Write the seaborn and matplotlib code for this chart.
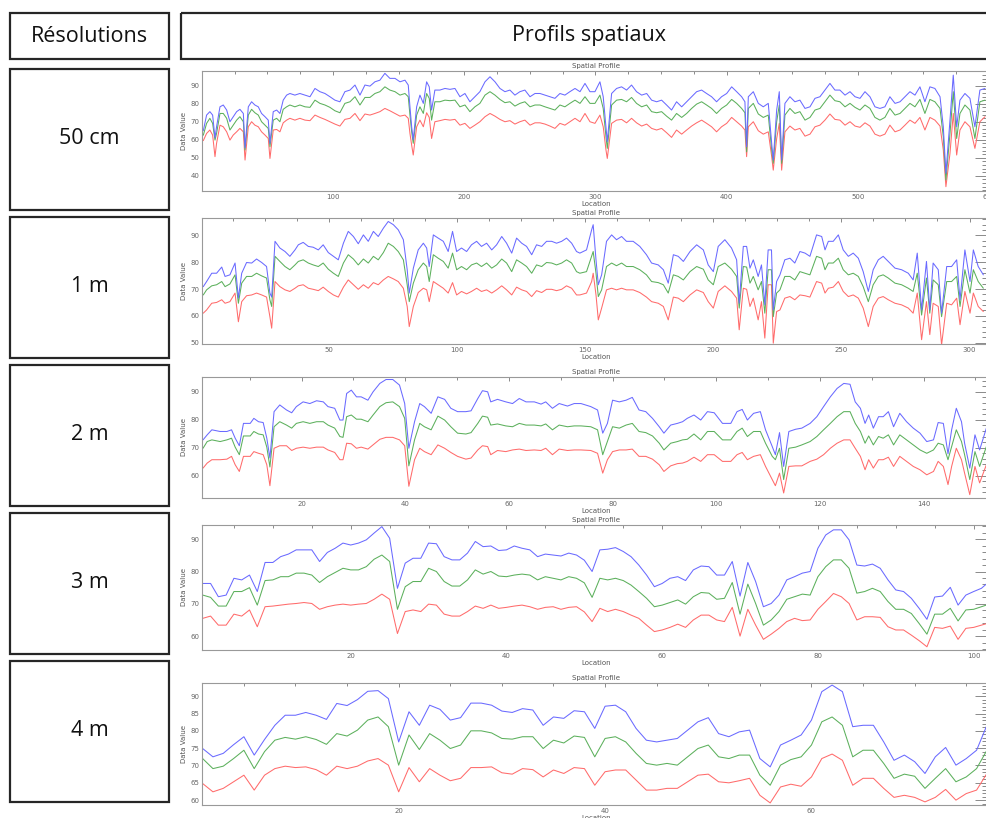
"""
Profils spatiaux (bandes R, V, B) pour différentes résolutions.
"""

import numpy as np
import pandas as pd
import matplotlib
matplotlib.use("Agg")
import matplotlib.pyplot as plt
import matplotlib.ticker as mticker
from matplotlib.patches import Rectangle
import seaborn as sns

sns.set_theme(style="white")
plt.rcParams["font.family"] = ["DejaVu Sans"]

# ---------------------------------------------------------------- données
resolutions = ["50 cm", "1 m", "2 m", "3 m", "4 m"]

# 50 cm
loc_50cm = [
    1.2, 3.7, 6.2, 8.3, 10.1, 11.3, 13.9, 16.4, 19.0, 21.5,
    24.0, 26.6, 29.1, 31.7, 33.0, 35.5, 38.0, 40.5, 43.1, 45.6,
    48.2, 50.7, 52.0, 54.5, 57.1, 59.6, 62.1, 64.7, 67.2, 71.0,
    74.8, 78.7, 82.5, 86.3, 90.1, 93.9, 97.7, 101.5, 105.3, 109.1,
    113.0, 116.8, 120.6, 124.4, 128.2, 132.0, 135.8, 139.6, 143.4, 147.3,
    151.1, 154.9, 157.4, 158.7, 160.0, 161.2, 163.8, 166.3, 168.9, 171.4,
    173.4, 175.2, 177.7, 181.5, 185.4, 189.2, 193.0, 196.8, 200.6, 204.4,
    208.2, 212.0, 215.9, 219.7, 223.5, 227.3, 231.1, 234.9, 238.7, 242.5,
    246.3, 250.2, 254.0, 257.8, 261.6, 265.4, 269.2, 273.0, 276.8, 280.6,
    284.5,
    288.3, 292.1, 295.9, 299.7, 303.5, 306.0, 308.1, 309.1, 312.4, 316.2,
    320.0, 323.8, 327.6, 331.4, 335.3, 339.1, 342.9, 346.7, 350.5, 354.3,
    358.1, 361.9, 365.8, 369.6, 373.4, 377.2, 381.0, 384.8, 388.6, 392.4,
    396.2, 400.1, 403.9, 407.7, 411.5, 414.0, 415.3, 416.6, 420.4, 424.2,
    428.0, 431.8, 434.4, 435.6, 438.2, 440.2, 442.0, 444.5, 448.3, 452.1,
    455.9, 459.8, 463.6, 467.4, 471.2, 475.0, 478.8, 482.6, 486.4, 490.3,
    494.1, 497.9, 501.7, 505.5, 509.3, 513.1, 516.9, 520.7, 524.5, 528.4,
    532.2, 536.0, 539.8, 543.6, 547.4, 551.2, 555.0, 558.8, 562.7, 565.2,
    567.2, 570.3, 572.8, 575.4, 577.9, 581.7, 585.5, 589.3, 593.1, 597.0,
]
blue_50cm = [
    65.0, 73.7, 75.6, 73.7, 61.0, 67.2, 78.3, 79.3, 76.5, 70.0,
    72.8, 75.6, 76.9, 74.6, 55.5, 78.3, 81.1, 79.3, 78.3, 74.6,
    72.8, 70.9, 58.0, 75.6, 76.5, 74.6, 82.0, 84.8, 85.7, 84.8,
    85.7, 84.8, 83.9, 88.5, 86.7, 85.7, 83.9, 82.0, 81.1, 86.7,
    87.6, 90.4, 84.8, 90.4, 89.8, 92.2, 93.1, 96.9, 94.1, 94.1,
    92.2, 93.1, 90.4, 78.3, 67.2, 60.0, 78.3, 84.8, 80.2, 92.2,
    89.4, 76.5, 87.6, 87.6, 88.5, 88.0, 88.5, 83.9, 85.7, 81.1,
    83.9, 86.7, 92.2, 95.0, 92.2, 88.5, 86.7, 87.6, 84.8, 86.7,
    87.6, 83.9, 85.7, 85.7, 84.8, 83.9, 83.0, 85.7, 84.8, 86.7,
    88.5,
    86.7, 91.3, 86.7, 86.7, 92.2, 83.9, 67.2, 58.9, 85.7, 88.5,
    89.4, 87.6, 90.4, 86.7, 84.8, 85.7, 82.0, 81.1, 82.0, 79.3,
    76.5, 81.1, 78.3, 81.1, 83.9, 86.7, 87.6, 85.7, 83.9, 81.1,
    83.9, 85.7, 89.4, 86.7, 83.9, 81.1, 56.1, 83.9, 86.7, 80.2,
    78.3, 80.2, 58.0, 48.7, 76.5, 86.7, 48.7, 80.2, 83.9, 81.1,
    82.0, 77.4, 78.3, 83.0, 83.9, 87.6, 91.3, 87.6, 87.6, 84.8,
    86.7, 83.9, 83.0, 86.7, 83.9, 78.3, 77.4, 78.3, 83.9, 80.2,
    81.1, 83.9, 86.7, 84.8, 89.4, 81.1, 89.4, 88.5, 83.9, 67.2,
    41.3, 70.9, 95.9, 67.2, 82.0, 85.7, 83.0, 67.2, 87.6, 88.5,
]
green_50cm = [
    62.5, 69.1, 71.9, 69.1, 59.8, 63.5, 74.6, 74.6, 71.9, 65.4,
    68.1, 70.9, 72.8, 70.0, 54.3, 73.7, 76.9, 75.0, 73.7, 70.0,
    68.1, 66.3, 56.1, 70.9, 71.9, 70.0, 76.9, 78.3, 79.3, 78.3,
    79.3, 78.3, 78.0, 82.0, 80.2, 79.3, 78.0, 76.1, 75.0, 80.2,
    81.1, 83.9, 79.3, 83.5, 83.5, 85.7, 86.7, 89.4, 87.6, 86.7,
    84.8, 85.7, 83.9, 73.7, 64.4, 58.0, 73.7, 78.3, 74.6, 85.7,
    83.0, 70.9, 81.1, 81.1, 82.0, 81.7, 82.0, 78.3, 79.3, 75.6,
    78.3, 80.2, 84.8, 86.7, 84.8, 82.4, 80.6, 81.1, 78.7, 80.2,
    81.1, 78.3, 79.3, 79.3, 78.3, 77.4, 76.5, 79.3, 78.3, 80.2,
    82.0,
    80.2, 83.9, 80.2, 80.2, 84.8, 77.4, 61.7, 55.2, 79.3, 82.0,
    82.4, 81.1, 83.5, 80.2, 78.3, 79.3, 75.6, 75.0, 75.6, 73.1,
    70.9, 74.6, 72.4, 74.6, 77.4, 79.8, 81.1, 79.3, 77.4, 74.6,
    77.4, 79.3, 82.4, 80.2, 77.4, 75.0, 53.3, 77.4, 80.2, 74.3,
    72.4, 73.7, 54.3, 46.9, 70.0, 79.3, 46.9, 73.7, 77.4, 74.6,
    75.6, 70.9, 72.4, 76.5, 77.4, 81.1, 84.8, 81.7, 81.1, 78.3,
    80.2, 78.0, 76.5, 79.3, 77.4, 72.4, 70.9, 72.4, 77.4, 73.7,
    74.6, 77.4, 80.2, 78.3, 82.4, 74.6, 82.4, 81.1, 77.4, 61.7,
    37.6, 63.5, 86.7, 60.7, 74.6, 79.3, 76.5, 60.7, 81.1, 82.0,
]
red_50cm = [
    59.5, 63.5, 65.4, 62.6, 50.6, 58.0, 68.1, 67.2, 64.4, 59.8,
    62.6, 64.4, 66.3, 64.4, 48.7, 67.2, 70.0, 68.1, 67.2, 64.4,
    62.6, 60.7, 49.6, 65.4, 65.7, 64.4, 69.4, 70.9, 71.9, 70.9,
    71.9, 70.9, 70.6, 73.7, 72.4, 71.3, 70.0, 68.7, 67.6, 71.3,
    71.9, 74.6, 70.6, 74.3, 73.7, 74.6, 75.6, 77.4, 76.1, 74.6,
    73.1, 73.7, 71.9, 63.5, 57.0, 51.5, 67.2, 70.9, 67.2, 75.0,
    72.4, 60.7, 70.0, 70.6, 71.3, 70.9, 71.3, 68.1, 69.1, 66.3,
    68.1, 70.0, 72.8, 74.6, 73.1, 71.3, 70.0, 70.6, 68.7, 70.0,
    70.9, 68.1, 69.4, 69.4, 68.7, 67.6, 66.3, 69.1, 68.1, 70.0,
    71.9,
    70.0, 74.6, 70.0, 69.1, 73.7, 67.2, 54.3, 49.6, 69.1, 70.9,
    71.3, 69.4, 71.9, 69.4, 67.6, 68.7, 66.3, 65.4, 66.3, 63.9,
    61.3, 65.4, 63.1, 65.4, 67.6, 69.4, 70.9, 69.1, 67.2, 64.4,
    67.2, 69.1, 72.4, 70.0, 67.6, 65.4, 50.6, 67.2, 70.0, 65.0,
    63.1, 64.4, 50.6, 43.1, 60.7, 69.1, 43.1, 64.4, 67.6, 65.4,
    66.3, 62.0, 63.1, 67.2, 68.1, 70.9, 74.3, 71.3, 70.9, 68.1,
    70.0, 67.6, 66.9, 69.4, 67.6, 63.1, 62.0, 63.1, 68.1, 64.4,
    65.4, 68.1, 70.9, 69.1, 72.4, 65.4, 72.4, 70.9, 67.6, 54.3,
    33.9, 52.4, 74.6, 51.5, 65.4, 70.0, 67.2, 55.2, 70.0, 72.8,
]

# 1 m
loc_1m = [
    0.9, 2.2, 4.2, 6.1, 8.1, 9.4, 11.3, 13.3, 14.6, 15.9,
    17.8, 19.8, 21.7, 23.7, 25.6, 26.9, 27.6, 28.9, 30.8, 32.8,
    34.7, 36.7, 38.0, 39.9, 41.9, 43.8, 45.8, 47.7, 49.7, 51.7,
    53.6, 55.6, 57.5, 59.5, 61.4, 63.4, 65.3, 67.3, 69.2, 71.2,
    73.1, 75.1, 77.0, 79.0, 80.5, 81.3, 82.9, 84.8, 86.8, 88.1,
    89.1, 90.7, 92.6, 94.6, 96.5, 98.2, 99.8, 101.7, 103.7, 105.6,
    107.6, 109.5, 111.5, 113.5, 115.4, 117.4, 119.3, 121.3, 123.2, 125.2,
    127.1, 129.1, 131.0, 133.0, 134.9, 136.9, 138.8, 140.8, 142.7, 144.7,
    146.6,
    147.9, 150.5, 152.5, 153.1, 154.2, 155.1, 156.4, 158.3, 160.3, 162.2,
    164.2, 166.1, 168.7, 171.3, 173.9, 175.9, 178.5, 180.5, 182.4, 184.4,
    186.3, 188.3, 190.9, 193.5, 196.1, 198.0, 200.0, 201.9, 204.5, 207.1,
    209.1, 210.1, 211.7, 213.0, 214.3, 215.6, 217.5, 218.8, 220.1, 221.4,
    222.7, 223.4, 224.7, 226.0, 227.9, 229.9, 231.8, 233.8, 235.8, 237.7,
    240.3, 242.3, 243.6, 244.9, 246.8, 248.8, 250.7, 252.7, 254.6, 256.6,
    258.5, 260.5, 262.4, 264.4, 266.3, 268.3, 270.9, 273.5, 276.1, 278.0,
    279.6, 281.3, 283.2, 284.5, 285.8, 287.8, 289.1, 291.1, 293.0, 295.0,
    296.3, 298.2, 300.2, 301.5, 303.4, 305.4,
]
blue_1m = [
    70.9, 72.8, 75.9, 75.9, 78.2, 74.7, 75.3, 79.7, 66.6, 75.9,
    79.9, 79.7, 81.2, 79.9, 78.4, 68.5, 67.0, 87.8, 85.3, 84.0,
    82.2, 84.6, 86.5, 87.4, 85.9, 85.6, 84.6, 86.5, 83.6, 82.2,
    80.9, 87.1, 91.5, 89.6, 86.9, 90.2, 87.8, 91.5, 89.6, 92.7,
    95.2, 94.0, 92.1, 88.4, 77.2, 68.5, 77.8, 84.6, 87.1, 85.3,
    78.4, 90.2, 89.0, 87.8, 84.0, 91.5, 84.0, 85.3, 84.0, 86.5,
    87.8, 85.9, 87.1, 84.6, 86.5, 89.6, 87.1, 83.4, 89.0, 87.1,
    85.9, 82.8, 86.5, 85.9, 87.8, 87.8, 87.1, 87.8, 89.0, 87.1,
    84.0,
    83.4, 84.6, 92.1, 94.0, 80.9, 71.6, 75.3, 87.8, 90.2, 88.4,
    89.6, 87.8, 87.8, 85.9, 82.8, 79.7, 79.0, 77.2, 72.2, 82.8,
    82.2, 80.3, 84.0, 86.5, 84.6, 79.0, 76.5, 85.9, 88.4, 85.3,
    80.9, 64.7, 85.9, 85.9, 77.8, 80.9, 74.7, 79.0, 64.1, 84.6,
    84.6, 62.2, 72.8, 75.3, 80.9, 81.5, 79.7, 84.0, 83.4, 82.2,
    90.2, 89.6, 84.6, 87.8, 87.8, 90.2, 84.6, 82.2, 83.4, 81.5,
    76.5, 69.1, 77.2, 80.9, 82.2, 80.3, 77.8, 77.2, 75.9, 73.4,
    83.4, 62.2, 80.3, 62.2, 79.7, 77.2, 61.0, 78.4, 78.4, 80.9,
    66.0, 84.6, 72.8, 84.6, 78.4, 75.3,
]
green_1m = [
    67.8, 69.7, 71.2, 71.6, 72.8, 70.9, 71.9, 75.3, 64.7, 72.2,
    74.7, 74.7, 75.9, 74.9, 74.1, 66.0, 63.5, 82.2, 80.3, 78.4,
    77.2, 79.0, 80.3, 80.9, 79.7, 79.0, 78.4, 79.7, 77.4, 75.9,
    74.7, 79.7, 82.8, 81.2, 79.0, 81.2, 79.7, 82.2, 80.9, 83.6,
    87.1, 85.9, 84.0, 80.9, 71.6, 65.3, 72.2, 77.2, 79.7, 78.4,
    72.8, 82.8, 81.5, 80.3, 77.8, 83.4, 77.2, 78.4, 77.2, 79.0,
    79.7, 78.4, 79.7, 77.8, 79.0, 81.2, 79.7, 76.5, 80.9, 79.7,
    78.4, 75.9, 79.0, 78.4, 79.9, 79.7, 79.0, 79.7, 80.9, 79.7,
    76.5,
    75.9, 76.5, 82.2, 84.0, 75.9, 67.2, 69.7, 78.4, 79.7, 78.7,
    79.7, 78.4, 78.4, 77.2, 75.3, 72.8, 72.4, 71.6, 68.5, 75.3,
    74.7, 73.4, 76.5, 78.4, 77.4, 73.4, 71.6, 78.4, 79.7, 77.4,
    74.7, 62.9, 78.4, 78.2, 72.2, 74.7, 69.7, 72.8, 61.0, 77.2,
    77.2, 59.7, 68.5, 69.7, 74.7, 74.7, 73.4, 76.5, 75.9, 75.3,
    82.2, 81.5, 77.2, 79.7, 79.7, 81.5, 77.2, 75.3, 75.9, 74.7,
    70.9, 65.3, 71.6, 74.7, 75.3, 74.1, 72.2, 71.6, 70.3, 69.1,
    75.9, 60.3, 74.1, 61.0, 73.4, 71.6, 59.7, 72.8, 72.8, 74.7,
    63.5, 77.2, 68.5, 77.2, 72.8, 70.3,
]
red_1m = [
    61.0, 62.2, 64.7, 65.0, 66.0, 64.7, 65.3, 68.5, 57.8, 65.3,
    67.5, 67.8, 68.5, 67.8, 67.0, 59.7, 55.4, 72.8, 70.9, 69.7,
    69.1, 70.3, 71.2, 71.6, 70.3, 69.9, 69.4, 70.7, 69.1, 67.8,
    67.0, 70.7, 73.4, 71.6, 69.9, 71.6, 70.3, 72.4, 71.6, 73.4,
    74.7, 73.8, 72.8, 70.3, 63.5, 56.0, 63.5, 68.7, 70.3, 69.7,
    65.3, 72.8, 71.6, 70.3, 68.5, 72.4, 67.8, 69.1, 68.2, 69.1,
    70.3, 69.1, 69.7, 68.5, 69.7, 71.2, 69.7, 67.8, 70.7, 69.7,
    69.1, 67.2, 69.4, 68.7, 69.9, 69.9, 69.4, 69.9, 71.2, 70.3,
    67.8,
    67.8, 68.5, 72.8, 75.9, 67.8, 58.5, 62.9, 69.7, 70.3, 69.7,
    70.3, 69.7, 69.7, 68.7, 67.0, 65.3, 64.7, 63.5, 58.5, 67.0,
    66.6, 65.3, 67.8, 69.7, 68.7, 65.3, 62.9, 69.1, 71.2, 69.1,
    66.6, 54.8, 70.3, 69.9, 63.5, 66.6, 58.5, 65.3, 51.7, 71.6,
    71.6, 49.8, 61.6, 62.2, 66.6, 67.2, 66.0, 67.8, 67.5, 67.0,
    72.8, 72.2, 68.5, 70.3, 70.7, 72.8, 69.1, 67.2, 67.8, 66.6,
    62.9, 56.0, 63.5, 66.6, 67.2, 66.0, 64.7, 64.1, 62.9, 61.0,
    68.5, 51.1, 65.3, 53.0, 64.7, 63.5, 49.2, 64.7, 64.1, 66.6,
    56.7, 69.1, 61.0, 68.5, 63.5, 61.6,
]

# 2 m
loc_2m = [
    1.0, 1.8, 2.7, 4.3, 5.6, 6.5, 7.2, 8.0, 8.8, 10.1,
    10.8, 11.7, 12.6, 13.3, 13.9, 14.7, 15.8, 17.1, 18.1, 19.0,
    20.3, 21.6, 22.9, 24.2, 25.1, 26.4, 27.4, 28.0, 28.7, 29.6,
    30.6, 31.5, 32.8, 33.8, 35.1, 36.3, 37.6, 38.9, 39.9, 40.7,
    41.8, 42.8, 43.7, 45.0, 46.3, 47.6, 48.8, 50.1, 51.7, 52.7,
    54.0, 54.9, 55.9, 56.5, 57.8, 59.4, 60.7, 62.0, 63.3, 64.9,
    66.2, 67.1, 68.4, 69.7, 71.3, 72.6,
    73.9, 75.8, 77.1, 78.1, 79.0, 80.0, 81.3, 82.6, 83.8, 85.1,
    86.4, 87.7, 89.0, 89.9, 91.2, 92.5, 93.5, 94.4, 95.7, 97.0,
    98.3, 99.6, 101.2, 102.8, 104.0, 105.0, 106.0, 107.2, 108.5, 109.5,
    110.8, 111.4, 112.2, 113.0, 114.0, 115.3, 116.5, 118.1, 119.4, 120.7,
    122.0, 123.3, 124.6, 125.8, 126.8, 127.8, 128.7, 129.4, 130.3, 131.3,
    132.2, 133.2, 134.2, 135.4, 136.7, 138.0, 139.3, 140.6, 141.9, 142.8,
    143.8, 144.7, 145.4, 146.3, 147.3, 147.9, 148.9, 149.9, 150.8, 152.1,
]
blue_2m = [
    72.8, 74.6, 76.4, 75.8, 75.8, 76.4, 73.4, 70.7, 78.7, 78.7,
    80.5, 79.3, 79.0, 73.4, 66.3, 82.9, 85.3, 83.5, 82.5, 84.7,
    86.4, 85.8, 86.8, 86.4, 84.7, 84.1, 79.9, 79.9, 89.4, 90.6,
    88.2, 88.2, 87.0, 90.0, 93.0, 94.4, 94.4, 92.4, 85.8, 69.8,
    79.3, 85.8, 84.7, 82.3, 88.2, 87.3, 84.1, 82.9, 82.9, 83.2,
    87.6, 90.4, 90.0, 86.4, 87.3, 86.4, 85.8, 87.6, 86.4, 86.4,
    85.6, 86.4, 84.1, 85.8, 84.9, 85.8,
    85.8, 84.7, 83.5, 75.2, 78.7, 87.0, 86.4, 87.0, 88.0, 83.5,
    82.9, 80.5, 77.5, 75.2, 78.1, 78.7, 79.3, 80.5, 81.7, 79.9,
    82.9, 82.5, 78.7, 78.7, 82.9, 83.7, 79.9, 82.3, 82.9, 76.4,
    70.4, 67.5, 75.4, 63.3, 75.8, 76.6, 77.0, 78.7, 81.1, 84.7,
    88.2, 91.2, 93.0, 92.7, 86.4, 84.1, 78.7, 81.7, 77.0, 81.1,
    81.1, 82.9, 77.5, 82.3, 79.3, 77.0, 75.2, 72.2, 72.8, 79.0,
    78.7, 67.8, 76.4, 84.1, 79.3, 71.6, 62.7, 74.6, 69.2, 77.0,
]
green_2m = [
    69.8, 72.2, 72.8, 72.2, 72.8, 73.4, 70.2, 67.5, 74.2, 74.2,
    75.8, 74.9, 74.6, 70.2, 63.1, 77.5, 79.3, 78.1, 77.0, 78.7,
    79.3, 78.7, 79.3, 79.3, 78.1, 77.0, 74.0, 73.7, 81.1, 81.7,
    80.2, 80.2, 79.3, 81.7, 84.7, 86.1, 86.4, 84.7, 80.5, 63.5,
    72.8, 78.7, 77.5, 76.4, 81.3, 79.9, 77.5, 75.2, 74.9, 75.4,
    78.7, 81.3, 80.9, 78.1, 78.5, 77.8, 77.5, 78.7, 78.1, 78.1,
    77.8, 78.5, 76.4, 78.1, 77.5, 77.8,
    77.8, 77.5, 76.4, 67.5, 72.2, 77.5, 77.0, 78.1, 78.7, 75.8,
    75.4, 74.2, 71.6, 69.2, 71.6, 72.2, 72.8, 73.0, 74.9, 72.8,
    75.8, 75.8, 72.8, 72.8, 75.8, 77.0, 74.0, 75.8, 75.8, 71.6,
    66.9, 65.7, 69.8, 58.6, 69.8, 70.2, 71.0, 72.2, 74.0, 76.4,
    78.7, 81.1, 82.9, 82.9, 78.7, 75.8, 71.6, 74.2, 71.0, 74.0,
    73.4, 74.6, 71.0, 74.6, 72.8, 71.0, 69.2, 68.0, 69.2, 71.6,
    71.0, 65.7, 70.4, 76.4, 72.2, 67.5, 58.6, 68.6, 63.3, 70.4,
]
red_2m = [
    62.7, 64.5, 65.7, 65.7, 65.9, 66.9, 63.9, 61.5, 66.9, 66.9,
    68.6, 68.0, 67.5, 63.9, 56.4, 69.8, 70.7, 70.7, 69.0, 69.8,
    70.2, 69.8, 70.2, 70.2, 69.2, 68.3, 65.7, 65.7, 71.6, 71.4,
    69.8, 70.2, 69.5, 71.0, 73.0, 73.7, 73.7, 72.8, 70.7, 56.2,
    65.7, 69.8, 68.6, 67.5, 71.0, 69.8, 68.3, 66.9, 65.9, 66.3,
    69.2, 70.7, 70.4, 67.5, 69.0, 68.6, 69.2, 69.5, 69.0, 69.2,
    69.0, 69.8, 67.5, 69.5, 69.0, 69.2,
    69.2, 69.0, 68.0, 60.9, 65.7, 68.6, 69.2, 69.2, 69.5, 66.9,
    66.9, 65.9, 63.9, 61.5, 63.5, 64.3, 64.5, 65.1, 66.6, 65.1,
    67.5, 67.5, 65.1, 65.1, 67.5, 68.3, 65.7, 66.9, 67.5, 63.3,
    58.6, 56.4, 60.9, 53.8, 63.3, 63.5, 63.5, 65.1, 65.9, 67.5,
    69.8, 71.6, 72.8, 72.8, 69.8, 66.9, 62.1, 65.7, 62.7, 65.7,
    65.7, 66.6, 63.3, 66.9, 65.1, 63.3, 62.1, 60.3, 61.5, 65.1,
    63.3, 56.8, 63.3, 69.8, 65.7, 60.9, 53.2, 63.3, 57.4, 63.9,
]

# 3 m
loc_3m = list(range(1, 103))
blue_3m = [
    76.3, 76.3, 72.2, 72.7, 77.9, 77.4, 78.9, 73.8, 82.8, 82.8,
    84.6, 85.4, 86.7, 86.7, 86.7, 83.1, 85.9, 87.2, 88.8, 88.2,
    88.8, 89.8, 91.9, 93.9, 90.3, 74.8, 82.6, 84.1, 84.1, 88.8,
    88.6, 84.6, 83.6, 83.6, 85.7, 89.3, 87.7, 87.9, 86.5, 86.7,
    87.9, 87.2, 86.7, 84.6, 85.4, 85.1, 84.8, 85.7, 85.1, 83.5,
    80.0, 86.7, 86.9, 87.4, 86.2, 84.6, 82.0, 78.9, 75.3, 76.3,
    77.9, 78.4, 77.2, 80.5, 81.7, 81.5, 78.9, 78.9, 83.1, 72.4,
    82.8, 76.9, 69.1, 70.1, 72.7, 77.4, 78.4, 79.5, 80.0, 87.2,
    91.3, 92.9, 92.9, 89.8, 82.0, 81.7, 82.3, 81.0, 77.4, 74.3,
    73.8, 71.7, 68.6, 65.2, 72.1, 72.4, 75.1, 69.6, 72.7, 73.8,
    74.8, 76.9,
]
green_3m = [
    72.7, 72.0, 69.3, 69.3, 73.8, 73.8, 75.0, 69.6, 77.2, 77.4,
    78.4, 78.4, 79.5, 79.5, 78.9, 76.6, 78.4, 79.7, 81.0, 80.5,
    80.5, 81.5, 83.8, 85.1, 83.1, 68.3, 75.3, 76.9, 76.9, 81.0,
    80.0, 76.9, 75.5, 75.5, 77.4, 80.5, 79.2, 80.0, 78.6, 78.4,
    78.9, 79.2, 78.9, 77.4, 78.4, 77.9, 77.4, 78.4, 77.9, 76.5,
    72.0, 77.9, 77.4, 77.9, 77.2, 75.8, 73.8, 71.7, 69.1, 69.6,
    70.4, 71.2, 69.9, 72.2, 73.5, 73.3, 71.4, 71.7, 76.6, 66.8,
    76.1, 70.1, 63.4, 65.0, 67.6, 71.4, 72.2, 73.0, 72.7, 78.4,
    81.5, 83.6, 83.6, 81.0, 73.3, 73.8, 74.8, 73.8, 70.7, 68.3,
    68.3, 67.0, 63.9, 60.6, 66.8, 66.8, 68.6, 64.7, 68.1, 68.3,
    69.1, 69.9,
]
red_3m = [
    65.5, 66.2, 63.4, 63.4, 66.8, 66.2, 68.1, 62.9, 69.1, 69.3,
    69.6, 69.9, 70.1, 70.4, 70.1, 68.3, 69.1, 69.6, 69.9, 69.6,
    69.9, 70.1, 71.4, 73.0, 71.4, 60.8, 67.6, 68.1, 67.6, 69.9,
    69.6, 66.8, 66.2, 66.2, 67.6, 69.3, 68.6, 69.6, 68.6, 68.9,
    69.3, 69.6, 69.1, 68.3, 68.9, 69.1, 68.3, 68.9, 69.1, 67.5,
    64.5, 68.6, 67.6, 68.3, 67.6, 66.5, 65.5, 63.4, 61.4, 61.9,
    62.7, 63.7, 62.7, 65.0, 66.5, 66.5, 65.0, 64.5, 68.9, 60.0,
    68.3, 63.4, 59.0, 60.6, 62.4, 64.5, 65.5, 64.8, 65.0, 68.3,
    70.7, 73.2, 72.2, 70.1, 65.0, 66.0, 66.0, 65.8, 62.9, 61.9,
    61.9, 60.3, 58.6, 56.7, 62.7, 62.4, 63.1, 59.0, 62.4, 62.7,
    63.4, 64.1,
]

# 4 m
loc_4m = list(range(1, 78))
blue_4m = [
    74.9, 72.5, 73.5, 76.0, 78.3, 73.0, 77.5, 81.6, 84.5, 84.5,
    85.3, 84.5, 83.3, 87.9, 87.3, 89.0, 91.4, 91.6, 89.3, 76.8,
    85.5, 81.6, 87.4, 86.2, 83.1, 83.8, 88.0, 88.0, 87.4, 85.7,
    85.3, 86.4, 86.0, 81.6, 84.0, 83.6, 85.8, 85.5, 80.7, 87.1,
    87.4, 85.5, 80.7, 77.3, 76.8, 77.3, 77.8, 80.2, 82.6, 83.8,
    79.2, 78.3, 79.7, 80.2, 72.0, 69.6, 75.9, 77.3, 78.8, 83.1,
    91.3, 93.2, 91.3, 81.2, 81.6, 81.6, 76.8, 71.5, 73.0, 71.1,
    67.7, 72.5, 75.2, 70.1, 72.0, 74.4, 81.6,
]
green_4m = [
    72.0, 69.1, 69.8, 72.0, 74.4, 69.1, 74.0, 77.3, 78.1, 77.6,
    78.3, 77.5, 76.1, 79.2, 78.5, 80.2, 83.1, 84.0, 81.2, 70.1,
    78.8, 74.6, 79.2, 77.3, 74.9, 75.9, 80.0, 80.0, 79.4, 77.8,
    77.6, 78.3, 78.3, 74.9, 77.3, 76.5, 78.5, 78.1, 72.5, 77.8,
    78.3, 76.8, 73.5, 70.6, 70.1, 70.6, 70.1, 72.5, 74.9, 75.9,
    72.5, 72.0, 73.0, 73.0, 67.2, 64.3, 70.1, 71.7, 72.5, 75.9,
    82.6, 84.0, 81.6, 72.5, 74.4, 74.4, 70.6, 66.3, 67.5, 66.9,
    63.4, 66.3, 69.1, 65.3, 66.7, 69.1, 74.4,
]
red_4m = [
    64.8, 62.4, 63.4, 65.3, 67.2, 62.9, 67.2, 69.1, 69.8, 69.4,
    69.6, 68.8, 67.2, 69.8, 69.1, 69.8, 71.3, 72.0, 70.1, 62.4,
    69.4, 65.3, 69.1, 67.2, 65.6, 66.3, 69.4, 69.4, 69.6, 67.9,
    67.5, 69.1, 68.8, 66.7, 68.7, 67.7, 69.4, 69.1, 64.3, 68.2,
    68.7, 68.7, 65.8, 62.9, 62.9, 63.4, 63.4, 65.3, 67.2, 67.5,
    65.3, 65.0, 65.6, 66.3, 61.4, 59.2, 63.8, 64.6, 64.0, 66.7,
    72.0, 73.3, 71.5, 64.3, 66.3, 66.3, 63.4, 60.8, 61.4, 60.8,
    59.5, 60.8, 63.1, 60.0, 61.9, 62.9, 67.7,
]

profiles = [
    (loc_50cm, red_50cm, green_50cm, blue_50cm),
    (loc_1m, red_1m, green_1m, blue_1m),
    (loc_2m, red_2m, green_2m, blue_2m),
    (loc_3m, red_3m, green_3m, blue_3m),
    (loc_4m, red_4m, green_4m, blue_4m),
]

# ---------------------------------------------------------------- mise en page
W, H = 987, 818
palette = {"R": "#ff6b6b", "V": "#5cb05c", "B": "#6a6aff"}

# (top px, bottom px, xlim, ylim, x major, x minor, y major, y minor)
panels = [
    (71, 191, (0.2, 600.8), (31.5, 98.2), 100, 25, 10, 2),
    (218, 344, (0.4, 308), (49.5, 96.5), 50, 12.5, 10, 2),
    (377, 498, (0.8, 152.8), (52.0, 95.3), 20, 10, 10, 2),
    (525, 650, (0.9, 102.1), (55.7, 94.4), 20, 5, 10, 2),
    (683, 805, (0.94, 77.3), (58.6, 93.8), 20, 5, 5, 1),
]
row_tops = [69, 217, 365, 513, 661]

fig = plt.figure(figsize=(W / 100, H / 100), dpi=100)
fig.patch.set_facecolor("white")

# cadres du tableau
frame = fig.add_axes([0, 0, 1, 1])
frame.set_xlim(0, W)
frame.set_ylim(H, 0)
frame.axis("off")
box_kw = dict(fill=False, edgecolor="#262626", linewidth=1.6)
frame.add_patch(Rectangle((10, 13), 159, 46, **box_kw))
frame.add_patch(Rectangle((181, 13), 812, 46, **box_kw))
txt_kw = dict(ha="center", va="center", fontsize=15.5, color="#111111",
              family=["Open Sans", "DejaVu Sans"])
frame.text(89.5, 36, "Résolutions", **txt_kw)
frame.text(589, 36, "Profils spatiaux", **txt_kw)
for top, label in zip(row_tops, resolutions):
    frame.add_patch(Rectangle((10, top), 159, 141, **box_kw))
    frame.text(89.5, top + 69, label, **txt_kw)

left_px, right_px = 202, 990
for (locs, red, green, blue), (top, bot, xl, yl, xM, xm, yM, ym) in zip(profiles, panels):
    ax = fig.add_axes([left_px / W, 1 - bot / H, (right_px - left_px) / W, (bot - top) / H])
    n = len(locs)
    df = pd.DataFrame({
        "Location": list(locs) * 3,
        "Data Value": list(red) + list(green) + list(blue),
        "Bande": ["R"] * n + ["V"] * n + ["B"] * n,
    })
    sns.lineplot(data=df, x="Location", y="Data Value", hue="Bande",
                 hue_order=["R", "V", "B"], palette=palette,
                 estimator=None, sort=False, legend=False,
                 linewidth=0.75, ax=ax)
    ax.set_xlim(*xl)
    ax.set_ylim(*yl)
    ax.xaxis.set_major_locator(mticker.MultipleLocator(xM))
    ax.xaxis.set_minor_locator(mticker.MultipleLocator(xm))
    ax.yaxis.set_major_locator(mticker.MultipleLocator(yM))
    ax.yaxis.set_minor_locator(mticker.MultipleLocator(ym))
    ax.tick_params(axis="both", which="both", direction="in", colors="#777777",
                   labelcolor="#666666", labelsize=5, width=0.6, pad=2,
                   top=True, right=True)
    ax.tick_params(axis="y", which="major", length=11)
    ax.tick_params(axis="y", which="minor", length=6)
    ax.tick_params(axis="x", which="major", length=3)
    ax.tick_params(axis="x", which="minor", length=2)
    for sp in ax.spines.values():
        sp.set_color("#999999")
        sp.set_linewidth(0.8)
    ax.set_facecolor("white")
    ax.set_title("Spatial Profile", fontsize=5, color="#555555", pad=2)
    ax.set_xlabel("Location", fontsize=5, color="#555555", labelpad=1)
    ax.set_ylabel("Data Value", fontsize=5, color="#555555", labelpad=2)

fig.savefig("out.png", dpi=100)
